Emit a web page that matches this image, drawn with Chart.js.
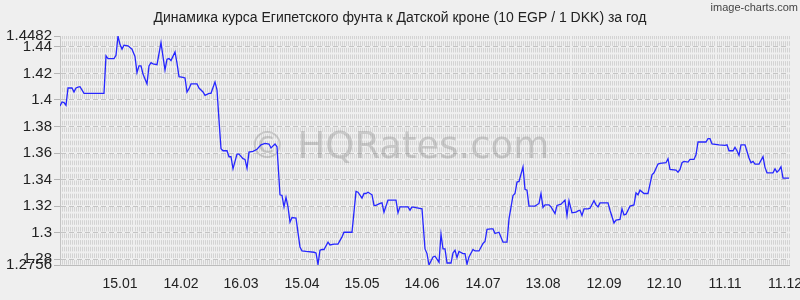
<!DOCTYPE html>
<html>
<head>
<meta charset="utf-8">
<script src="https://cdn.jsdelivr.net/npm/chart.js@4.4.1/dist/chart.umd.min.js"></script>
<style>
html, body { margin: 0; padding: 0; background: #efefef; }
#wrap { width: 800px; height: 300px; position: relative; }
</style>
</head>
<body>
<div id="wrap"><canvas id="chart"></canvas></div>
<script>
// days counted from 16.12 of the previous year
const dayOffsets = [
    0, 1, 2, 3, 4, 6, 7, 8, 9, 10, 12, 22, 23, 24, 27, 28, 29, 30, 31, 32,
    34, 36, 37, 38, 39, 40, 41, 43, 44, 45, 46, 48, 50, 51, 52, 53, 54, 55, 57, 58,
    59, 61, 62, 63, 64, 65, 68, 69, 71, 72, 74, 75, 77, 78, 79, 80, 81, 83, 84, 85,
    86, 88, 89, 91, 92, 93, 94, 96, 98, 100, 102, 104, 105, 107, 108, 109, 110, 111, 112, 113,
    114, 115, 117, 119, 120, 122, 126, 127, 128, 129, 130, 131, 133, 134, 136, 138, 140, 141, 145, 147,
    148, 150, 151, 152, 153, 155, 156, 157, 159, 160, 161, 163, 167, 168, 169, 173, 174, 175, 180, 181,
    182, 183, 185, 186, 188, 189, 190, 191, 192, 194, 195, 196, 197, 198, 200, 201, 202, 203, 205, 206,
    208, 210, 211, 212, 214, 215, 216, 218, 220, 222, 223, 225, 226, 227, 228, 230, 231, 232, 233, 236,
    238, 239, 240, 241, 243, 244, 246, 247, 249, 251, 252, 253, 254, 256, 257, 258, 259, 260, 262, 263,
    265, 266, 267, 268, 272, 273, 275, 276, 278, 279, 280, 281, 283, 285, 286, 287, 288, 290, 292, 294,
    295, 297, 298, 301, 302, 303, 306, 307, 308, 309, 310, 312, 313, 315, 316, 317, 321, 322, 323, 324,
    327, 330, 331, 332, 334, 335, 336, 337, 338, 340, 342, 343, 344, 345, 347, 349, 350, 351, 354, 355,
    356, 357, 358, 359, 362
];
const rates = [
    1.3955, 1.3985, 1.398, 1.396, 1.409, 1.409, 1.406, 1.409, 1.4096, 1.410, 1.405, 1.405, 1.4332, 1.4312, 1.4312, 1.4337, 1.4482, 1.4417, 1.4383, 1.4413,
    1.4408, 1.4383, 1.4327, 1.4206, 1.4257, 1.4257, 1.4196, 1.4121, 1.4257, 1.4281, 1.4272, 1.4266, 1.4432, 1.4327, 1.4226, 1.4307, 1.4312, 1.4297, 1.4362, 1.4277,
    1.4176, 1.4171, 1.4166, 1.406, 1.4085, 1.4121, 1.4121, 1.409, 1.406, 1.4035, 1.405, 1.405, 1.4136, 1.4075, 1.3849, 1.3632, 1.3617, 1.3617, 1.3572, 1.3572,
    1.3481, 1.3592, 1.3592, 1.3557, 1.3552, 1.3486, 1.3607, 1.3613, 1.3628, 1.3662, 1.3673, 1.3668, 1.3638, 1.3668, 1.3647, 1.3285, 1.3280, 1.3194, 1.3265, 1.3194,
    1.3079, 1.3114, 1.3109, 1.2892, 1.2862, 1.2858, 1.2852, 1.2847, 1.2760, 1.2867, 1.2873, 1.2873, 1.2928, 1.2907, 1.2913, 1.2913, 1.2968, 1.3003, 1.3003, 1.3311,
    1.3305, 1.3260, 1.3295, 1.3295, 1.3305, 1.3285, 1.3205, 1.3205, 1.3220, 1.3225, 1.3154, 1.3245, 1.3245, 1.3149, 1.3194, 1.3194, 1.3169, 1.3194, 1.3179, 1.2877,
    1.2842, 1.2756, 1.2817, 1.2822, 1.2777, 1.2988, 1.2877, 1.2877, 1.2771, 1.2771, 1.2847, 1.2867, 1.2812, 1.2858, 1.2842, 1.2842, 1.2762, 1.2817, 1.2873, 1.2862,
    1.2862, 1.2918, 1.2933, 1.3024, 1.3028, 1.3028, 1.2993, 1.3003, 1.2928, 1.2928, 1.3104, 1.3280, 1.3295, 1.3381, 1.3386, 1.3496, 1.3326, 1.3320, 1.3200, 1.3200,
    1.3220, 1.3295, 1.3190, 1.3209, 1.3209, 1.3194, 1.3144, 1.3205, 1.3215, 1.3245, 1.3129, 1.3240, 1.3149, 1.3154, 1.3164, 1.3169, 1.3129, 1.3179, 1.3179, 1.3184,
    1.3240, 1.3209, 1.3194, 1.3224, 1.3224, 1.3169, 1.3073, 1.3094, 1.3099, 1.3179, 1.3134, 1.3139, 1.3200, 1.3209, 1.3300, 1.3285, 1.3320, 1.3295, 1.3295, 1.3436,
    1.3451, 1.3517, 1.3522, 1.3527, 1.3557, 1.3477, 1.3471, 1.3456, 1.3477, 1.3527, 1.3537, 1.3532, 1.3552, 1.3552, 1.3587, 1.3683, 1.3683, 1.3708, 1.3708, 1.3668,
    1.3662, 1.3658, 1.3662, 1.3617, 1.3617, 1.3643, 1.3617, 1.3582, 1.3662, 1.3662, 1.3562, 1.3527, 1.3537, 1.3517, 1.3517, 1.3572, 1.3492, 1.3451, 1.3451, 1.3481,
    1.3456, 1.3471, 1.3496, 1.3411, 1.3411
];
const tickDays = [30, 60, 90, 120, 150, 180, 210, 240, 270, 300, 330, 360];
const tickLabels = ['15.01', '14.02', '16.03', '15.04', '15.05', '14.06', '14.07', '13.08', '12.09', '12.10', '11.11', '11.12'];
const yTicks = [1.2756, 1.28, 1.3, 1.32, 1.34, 1.36, 1.38, 1.4, 1.42, 1.44, 1.4482];
const lastDay = 362;

const chartTitle = 'Динамика курса Египетского фунта к Датской кроне (10 EGP / 1 DKK) за год';
const watermark = '© HQRates.com';
const credit = 'image-charts.com';

const FONT = '"Liberation Sans", Arial, sans-serif';

// title, credit and watermark
const decor = {
    id: 'decor',
    beforeDatasetsDraw(chart) {
        const ctx = chart.ctx;
        ctx.save();
        ctx.font = '37px "DejaVu Sans", sans-serif';
        ctx.fillStyle = 'rgba(140, 140, 140, 0.38)';
        ctx.textAlign = 'center';
        ctx.textBaseline = 'alphabetic';
        ctx.fillText(watermark, 399, 158);
        ctx.restore();
    },
    afterDraw(chart) {
        const ctx = chart.ctx;
        ctx.save();
        ctx.fillStyle = '#222';
        ctx.font = '14px ' + FONT;
        ctx.textAlign = 'center';
        ctx.textBaseline = 'middle';
        ctx.fillText(chartTitle, 400, 18);
        ctx.font = '11px "Liberation Sans Narrow", ' + FONT;
        ctx.fillStyle = '#444';
        ctx.textAlign = 'right';
        ctx.fillText(credit, 798, 8);
        ctx.restore();
    }
};

const data = {
    datasets: [{
        label: 'EGP/DKK',
        data: dayOffsets.map((d, i) => ({ x: d, y: rates[i] })),
        borderColor: '#2626ff',
        borderWidth: 1.3,
        pointRadius: 0,
        tension: 0,
        fill: false
    }]
};

const config = {
    type: 'line',
    data: data,
    plugins: [decor],
    options: {
        responsive: true,
        maintainAspectRatio: false,
        animation: false,
        devicePixelRatio: 1,
        layout: { padding: { top: 36, right: 3, left: 0, bottom: 0 } },
        plugins: {
            legend: { display: false },
            tooltip: { enabled: false },
            title: { display: false }
        },
        scales: {
            x: {
                type: 'linear',
                min: 0,
                max: lastDay,
                alignToPixels: true,
                afterBuildTicks: s => {
                    const t = [];
                    for (let d = 0; d <= lastDay; d++) t.push({ value: d });
                    s.ticks = t;
                },
                afterFit: s => { s.height = 35; },
                ticks: {
                    autoSkip: false,
                    maxRotation: 0,
                    minRotation: 0,
                    padding: 11,
                    color: '#222',
                    font: { family: FONT, size: 14 },
                    callback: v => {
                        const i = tickDays.indexOf(v);
                        return i >= 0 ? tickLabels[i] : '';
                    }
                },
                grid: { color: '#d3d3d3', lineWidth: 1, drawTicks: false },
                border: { display: true, color: '#bdbdbd', dash: [4.6, 2.03], dashOffset: 1.4 }
            },
            y: {
                min: 1.2756,
                max: 1.4482,
                afterBuildTicks: s => { s.ticks = yTicks.map(v => ({ value: v })); },
                afterFit: s => { s.width = 60; },
                ticks: {
                    padding: 2,
                    color: '#222',
                    font: { family: FONT, size: 15 },
                    callback: v => String(v)
                },
                grid: {
                    color: c => (c.tick && (c.tick.value === 1.2756 || c.tick.value === 1.4482)) ? 'rgba(0,0,0,0)' : '#c4c4c4',
                    tickColor: '#b5b5b5',
                    tickLength: 6
                },
                border: { display: true, color: '#c4c4c4', dash: [5, 3] }
            }
        }
    }
};

let ctx = document.getElementById('chart').getContext('2d');
new Chart(ctx, config);
</script>
</body>
</html>
